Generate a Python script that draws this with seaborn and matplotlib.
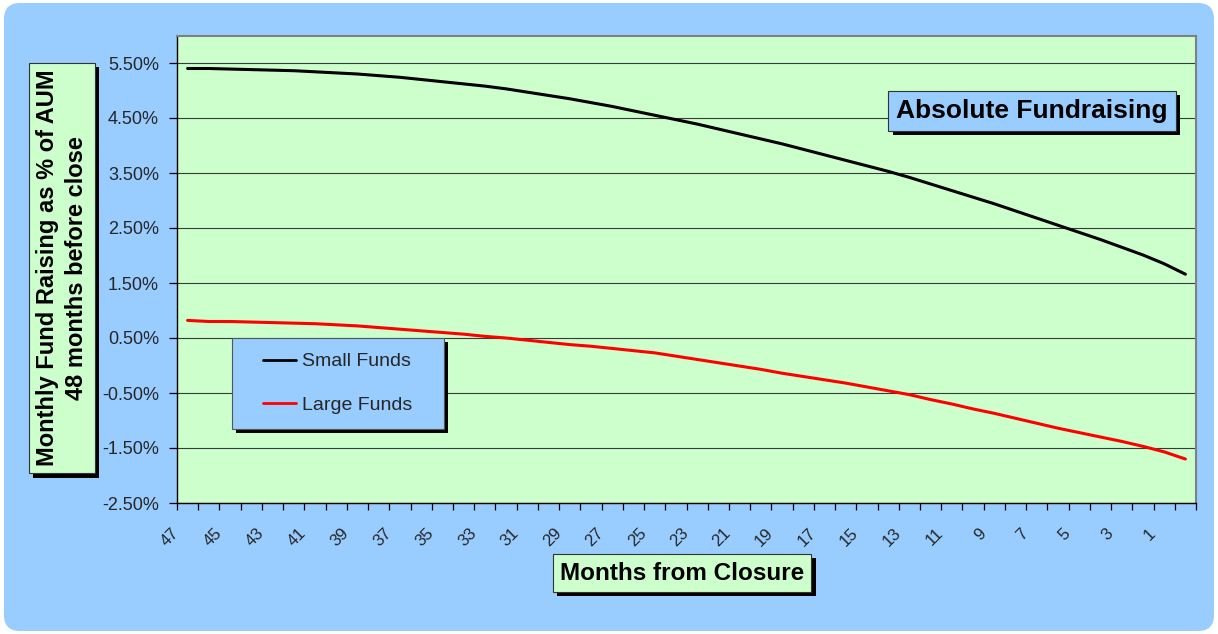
import matplotlib
matplotlib.use("Agg")
from matplotlib import pyplot as plt
from matplotlib.patches import FancyBboxPatch, Rectangle
from matplotlib.ticker import FuncFormatter
import matplotlib.patheffects as pe
import matplotlib.transforms as mtransforms
import seaborn as sns
import numpy as np
import pandas as pd

# months before closure, left to right
months = list(range(47, -1, -1))

# monthly fund raising as % of AUM
small_funds = [5.40, 5.40, 5.39, 5.38, 5.37, 5.36, 5.34, 5.32, 5.30, 5.27,
               5.24, 5.20, 5.16, 5.12, 5.08, 5.03, 4.97, 4.91, 4.85, 4.78,
               4.71, 4.63, 4.55, 4.47, 4.39, 4.30, 4.21, 4.12, 4.03, 3.93,
               3.83, 3.73, 3.63, 3.53, 3.42, 3.30, 3.18, 3.06, 2.94, 2.81,
               2.68, 2.55, 2.42, 2.29, 2.15, 2.01, 1.85, 1.66]
large_funds = [0.82, 0.80, 0.80, 0.79, 0.78, 0.77, 0.76, 0.74, 0.72, 0.69,
               0.66, 0.63, 0.60, 0.57, 0.53, 0.50, 0.46, 0.42, 0.38, 0.35,
               0.31, 0.27, 0.23, 0.17, 0.11, 0.05, -0.01, -0.07, -0.14, -0.20,
               -0.26, -0.32, -0.39, -0.46, -0.53, -0.62, -0.70, -0.79, -0.87, -0.96,
               -1.05, -1.14, -1.22, -1.30, -1.38, -1.47, -1.57, -1.70]
series_names = ["Small Funds", "Large Funds"]
y_ticks = [-2.5, -1.5, -0.5, 0.5, 1.5, 2.5, 3.5, 4.5, 5.5]

W, H, DPI = 1218, 634, 100
BLUE = "#99CCFF"
GREEN = "#CCFFCC"

sns.set_style("ticks")
plt.rcParams["font.family"] = ["Liberation Sans", "DejaVu Sans"]

pos = np.arange(len(months))
df = pd.DataFrame({
    "pos": np.concatenate([pos, pos]),
    "value": small_funds + large_funds,
    "series": [series_names[0]] * len(months) + [series_names[1]] * len(months),
})

fig = plt.figure(figsize=(W / DPI, H / DPI), dpi=DPI, facecolor="white")

# rounded light blue chart area
bg = FancyBboxPatch((0.04, 0.03), 12.10, 6.28,
                    boxstyle="round,pad=0,rounding_size=0.16",
                    transform=fig.dpi_scale_trans, fc=BLUE, ec="none",
                    zorder=-1)
fig.patches.append(bg)

ax = fig.add_axes([177 / W, 1 - 503 / H, (1196 - 177) / W, (503 - 35.5) / H])
ax.set_facecolor(GREEN)

sns.lineplot(data=df, x="pos", y="value", hue="series",
             palette={"Small Funds": "black", "Large Funds": "#FF0000"},
             linewidth=2.2, ax=ax)
handles, labels = ax.get_legend_handles_labels()
ax.get_legend().remove()

ax.set_xlim(-0.5, len(months) - 0.5)
ax.set_ylim(-2.5, 6.0)
ax.set_xlabel("")
ax.set_ylabel("")

ax.set_yticks(y_ticks)
ax.yaxis.set_major_formatter(FuncFormatter(lambda v, _: f"{v:.2f}%"))
ax.yaxis.grid(True, color="#3a3a3a", lw=0.8)
ax.tick_params(axis="y", length=6, width=0.9, color="black", labelsize=13,
               pad=7, direction="out")

ax.set_xticks(pos[::2])
ax.set_xticklabels([str(m) for m in months[::2]], rotation=45,
                   ha="right", va="center", rotation_mode="anchor")
ax.set_xticks(np.arange(-0.5, len(months)), minor=True)
ax.tick_params(axis="x", which="major", length=0, labelsize=12, pad=20)
ax.tick_params(axis="x", which="minor", length=5, width=0.9, color="black")
shift = mtransforms.ScaledTranslation(-11 / DPI, 0, fig.dpi_scale_trans)
for lab in ax.get_xticklabels():
    lab.set_transform(lab.get_transform() + shift)

for side in ["left", "bottom"]:
    ax.spines[side].set_color("black")
    ax.spines[side].set_linewidth(1.0)
for side in ["top", "right"]:
    ax.spines[side].set_color("#808080")
    ax.spines[side].set_linewidth(1.5)

shadow = [pe.SimplePatchShadow(offset=(3, -3), shadow_rgbFace="black",
                               alpha=1.0), pe.Normal()]


def boxed_text(x, y, s, fc, size, pad, **kw):
    t = fig.text(x, y, s, fontsize=size, fontweight="bold", color="black",
                 ha="center", va="center", zorder=5,
                 bbox=dict(boxstyle=f"square,pad={pad}", fc=fc, ec="#333333",
                           lw=0.8), **kw)
    t.get_bbox_patch().set_path_effects(shadow)
    return t


boxed_text(62 / W, 1 - 268 / H,
           "Monthly Fund Raising as % of AUM\n48 months before close",
           GREEN, 17, 0.3, rotation=90, linespacing=1.3)
boxed_text(682 / W, 1 - 573 / H, "Months from Closure", GREEN, 17.5, 0.3)
boxed_text(1032 / W, 1 - 111 / H, "Absolute Fundraising", BLUE, 19, 0.3)

# legend box with shadow
lx0, ly0, lx1, ly1 = 232, 338, 444, 429
legbox = Rectangle((lx0, H - ly1), lx1 - lx0, ly1 - ly0,
                   transform=mtransforms.IdentityTransform(),
                   fc=BLUE, ec="#555555", lw=0.8, zorder=7)
legbox.set_path_effects(shadow)
fig.patches.append(legbox)
leg = fig.legend(handles, labels, loc="center", frameon=False,
                 bbox_to_anchor=((lx0 + lx1) / 2 / W, 1 - (ly0 + ly1) / 2 / H),
                 fontsize=14, handlelength=1.7, handletextpad=0.3,
                 labelspacing=1.35)
leg.set_zorder(8)
for line in leg.get_lines():
    line.set_linewidth(2.0)

fig.savefig("out.png", dpi=DPI, facecolor="white")
